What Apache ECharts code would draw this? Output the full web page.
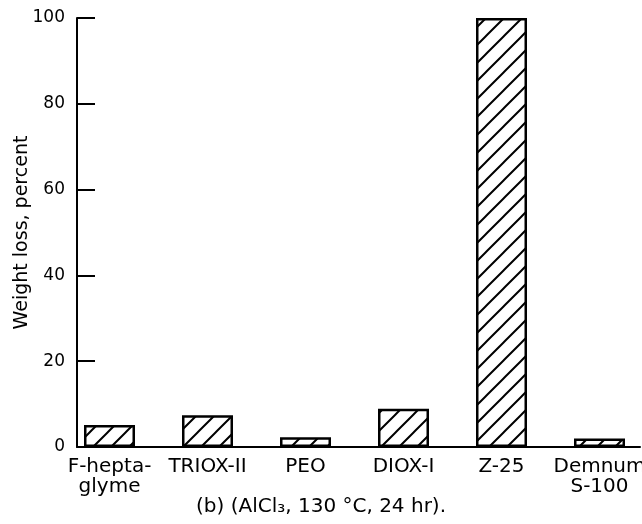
<!DOCTYPE html>
<html>
<head>
<meta charset="utf-8">
<script src="https://cdn.jsdelivr.net/npm/echarts@6/dist/echarts.min.js"></script>
<style>html,body{margin:0;padding:0;background:#fff;}#c{width:642px;height:524px;}</style>
</head>
<body>
<div id="c"></div>
<script>
const categories = ['F-hepta-\nglyme', 'TRIOX-II', 'PEO', 'DIOX-I', 'Z-25', 'Demnum\nS-100'];
const weightLoss = [5.1, 7.4, 2.3, 8.9, 100, 2.0];
const yTicks = [0, 20, 40, 60, 80, 100];
const yAxisTitle = 'Weight loss, percent';
const caption = '(b) (AlCl\u2083, 130 \u00B0C, 24 hr).';

function hatch() {
  const s = 18;
  const c = document.createElement('canvas');
  c.width = s; c.height = s;
  const g = c.getContext('2d');
  g.fillStyle = '#fff';
  g.fillRect(0, 0, s, s);
  g.strokeStyle = '#000';
  g.lineWidth = 2;
  g.beginPath();
  g.moveTo(-2, s + 2); g.lineTo(s + 2, -2);
  g.moveTo(-2, 2); g.lineTo(2, -2);
  g.moveTo(s - 2, s + 2); g.lineTo(s + 2, s - 2);
  g.stroke();
  return c;
}

const font = 'DejaVu Sans';
const chart = echarts.init(document.getElementById('c'), null, {renderer: 'canvas'});
chart.setOption({
  animation: false,
  backgroundColor: '#fff',
  graphic: [{
    type: 'text', left: 'center', top: 497,
    style: {text: caption, fontFamily: font, fontSize: 20, fill: '#000'}
  }],
  grid: [
    {left: 60.5, right: -6.5, top: 18, bottom: 77, containLabel: false, outerBoundsMode: 'none'},
    {left: 77, right: 2, top: 18, bottom: 77, containLabel: false, outerBoundsMode: 'none'}
  ],
  xAxis: [
    {
      type: 'category', gridIndex: 0, data: categories,
      axisLine: {show: false}, axisTick: {show: false},
      axisLabel: {fontFamily: font, fontSize: 20, color: '#000', margin: 10, lineHeight: 20, interval: 0}
    },
    {
      type: 'value', gridIndex: 1, min: 0, max: 1,
      axisLine: {show: true, lineStyle: {color: '#000', width: 2}},
      axisTick: {show: false}, axisLabel: {show: false}, splitLine: {show: false}
    }
  ],
  yAxis: [
    {type: 'value', gridIndex: 0, min: 0, max: 100, show: false},
    {
      type: 'value', gridIndex: 1, min: yTicks[0], max: yTicks[yTicks.length - 1], interval: 20,
      name: yAxisTitle, nameLocation: 'middle', nameGap: 45, nameMoveOverlap: false,
      nameTextStyle: {fontFamily: font, fontSize: 19, color: '#000'},
      axisLine: {show: true, lineStyle: {color: '#000', width: 2}},
      axisTick: {show: true, inside: true, length: 18, lineStyle: {color: '#000', width: 2}},
      axisLabel: {fontFamily: font, fontSize: 17, color: '#000', margin: 12},
      splitLine: {show: false}
    }
  ],
  series: [{
    type: 'bar', xAxisIndex: 0, yAxisIndex: 0,
    data: weightLoss, barWidth: 51,
    itemStyle: {color: {image: hatch(), repeat: 'repeat'}, borderColor: '#000', borderWidth: 2.5}
  }]
});
</script>
</body>
</html>
